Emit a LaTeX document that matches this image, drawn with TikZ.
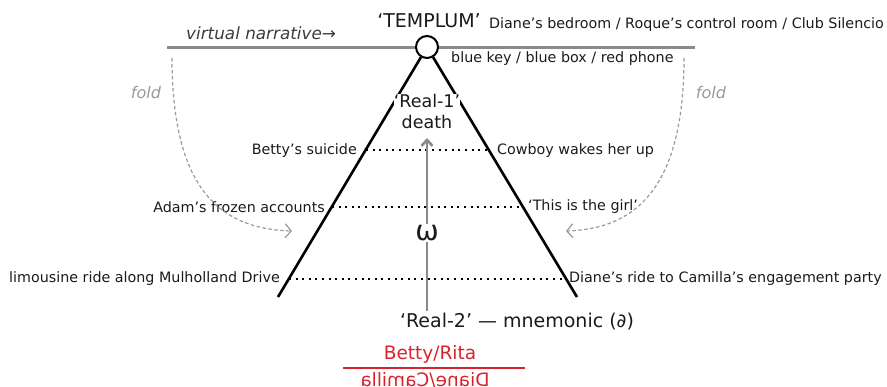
\documentclass[tikz,border=0pt]{standalone}
\usepackage{fontspec}
\setmainfont{DejaVu Sans}
\usetikzlibrary{arrows.meta,calc}
\definecolor{tx}{HTML}{1A1A1A}
\definecolor{ln}{HTML}{8A8A8A}
\definecolor{fd}{HTML}{9A9A9A}
\definecolor{rd}{HTML}{D8232E}
\begin{document}
\begin{tikzpicture}[x=1pt,y=-1pt,
  lab/.style={font=\fontsize{14.3}{16}\selectfont, text=tx, inner sep=1pt},
  big/.style={font=\fontsize{17.5}{21}\selectfont, text=tx, inner sep=0pt},
  hline/.style={draw=ln, line width=3pt},
  tri/.style={draw=black, line width=2.6pt},
  dots/.style={draw=black, line width=2pt, dash pattern=on 2pt off 4.6pt},
  garrow/.style={draw=ln, line width=2.6pt, -{Straight Barb[length=6pt,width=11pt]}},
  foldarrow/.style={draw=fd, line width=1.2pt, dash pattern=on 3.5pt off 2.5pt, -{Straight Barb[length=6pt,width=14pt]}},
  foldtxt/.style={font=\fontsize{16}{18}\selectfont\itshape, text=fd, inner sep=0pt}
]
\useasboundingbox (0,0) rectangle (887,387);

% horizontal line
\coordinate (h0) at (167,48);
\coordinate (h1) at (695,48);
\draw[hline] (h0) -- (h1);

% circle and triangle
\node[circle, draw=black, line width=2pt, fill=white, minimum size=22pt, inner sep=0pt] (c) at (427,47) {};
\coordinate (bl) at (278,297);
\coordinate (br) at (577,297);
\draw[tri] (c) -- (bl);
\draw[tri] (c) -- (br);

% dotted lines
\coordinate (d1l) at (366,150); \coordinate (d1r) at (489,150);
\coordinate (d2l) at (332,207); \coordinate (d2r) at (523,207);
\coordinate (d3l) at (289,279); \coordinate (d3r) at (566,279);
\draw[dots] (d1l) -- (d1r);
\draw[dots] (d2l) -- (d2r);
\draw[dots] (d3l) -- (d3r);

% labels of dotted lines
\node[lab, anchor=east] (l1) at (358,151) {Betty’s suicide};
\node[lab, anchor=west] (r1l) at (496,151) {Cowboy wakes her up};
\node[lab, anchor=east] (l2) at (326,207) {Adam’s frozen accounts};
\node[lab, anchor=west] (r2l) at (527,207) {‘This is the girl’};
\node[lab, anchor=east] (l3) at (281,279) {limousine ride along Mulholland Drive};
\node[lab, anchor=west] (r3l) at (568,279) {Diane’s ride to Camilla’s engagement party};

% top texts
\node[font=\fontsize{19}{20}\selectfont, text=tx, inner sep=0pt] (tp) at (429,21) {‘TEMPLUM’};
\node[lab, anchor=west] (rooms) at (488,25) {Diane’s bedroom / Roque’s control room / Club Silencio};
\node[lab, anchor=west] (keys) at (450,59) {blue key / blue box / red phone};
\node[font=\fontsize{16.8}{18}\selectfont\itshape, text=tx!85, inner sep=0pt, anchor=west] (vn) at (186,33) {virtual narrative→};

% Real-1
\node[big, fill=white, align=center] (re1) at (427,111) {‘Real-1’\\death};

% vertical arrow
\node[font=\fontsize{19}{21}\selectfont, text=tx, inner sep=0pt] (re2) at (517,322) {‘Real-2’ — mnemonic (∂)};
\coordinate (a0) at (427,311);
\coordinate (a1) at (427,138);
\draw[garrow] (a0) -- (a1);
\node[font=\fontsize{28}{30}\selectfont, text=tx, fill=white, inner sep=1pt] (om) at (427,233) {ω};

% folds
\coordinate (fl0) at (172,58);
\coordinate (fl1) at (292,231);
\coordinate (fr0) at (684,58);
\coordinate (fr1) at (566,231);
\draw[foldarrow] (fl0) .. controls (172,195) and (225,229) .. (fl1);
\draw[foldarrow] (fr0) .. controls (684,195) and (630,229) .. (fr1);
\node[foldtxt] (fdl) at (146,93) {fold};
\node[foldtxt] (fdr) at (711,93) {fold};

% red fraction
\node[font=\fontsize{18.5}{20}\selectfont, text=rd, inner sep=0pt] (bet) at (430,354) {Betty/Rita};
\coordinate (rl0) at (343,368);
\coordinate (rl1) at (525,368);
\draw[draw=rd, line width=2pt] (rl0) -- (rl1);
\node[font=\fontsize{18.5}{20}\selectfont, text=rd, inner sep=0pt, xscale=-1, anchor=north] (dc) at (425,372) {Diane/Camilla};
\end{tikzpicture}
\end{document}
